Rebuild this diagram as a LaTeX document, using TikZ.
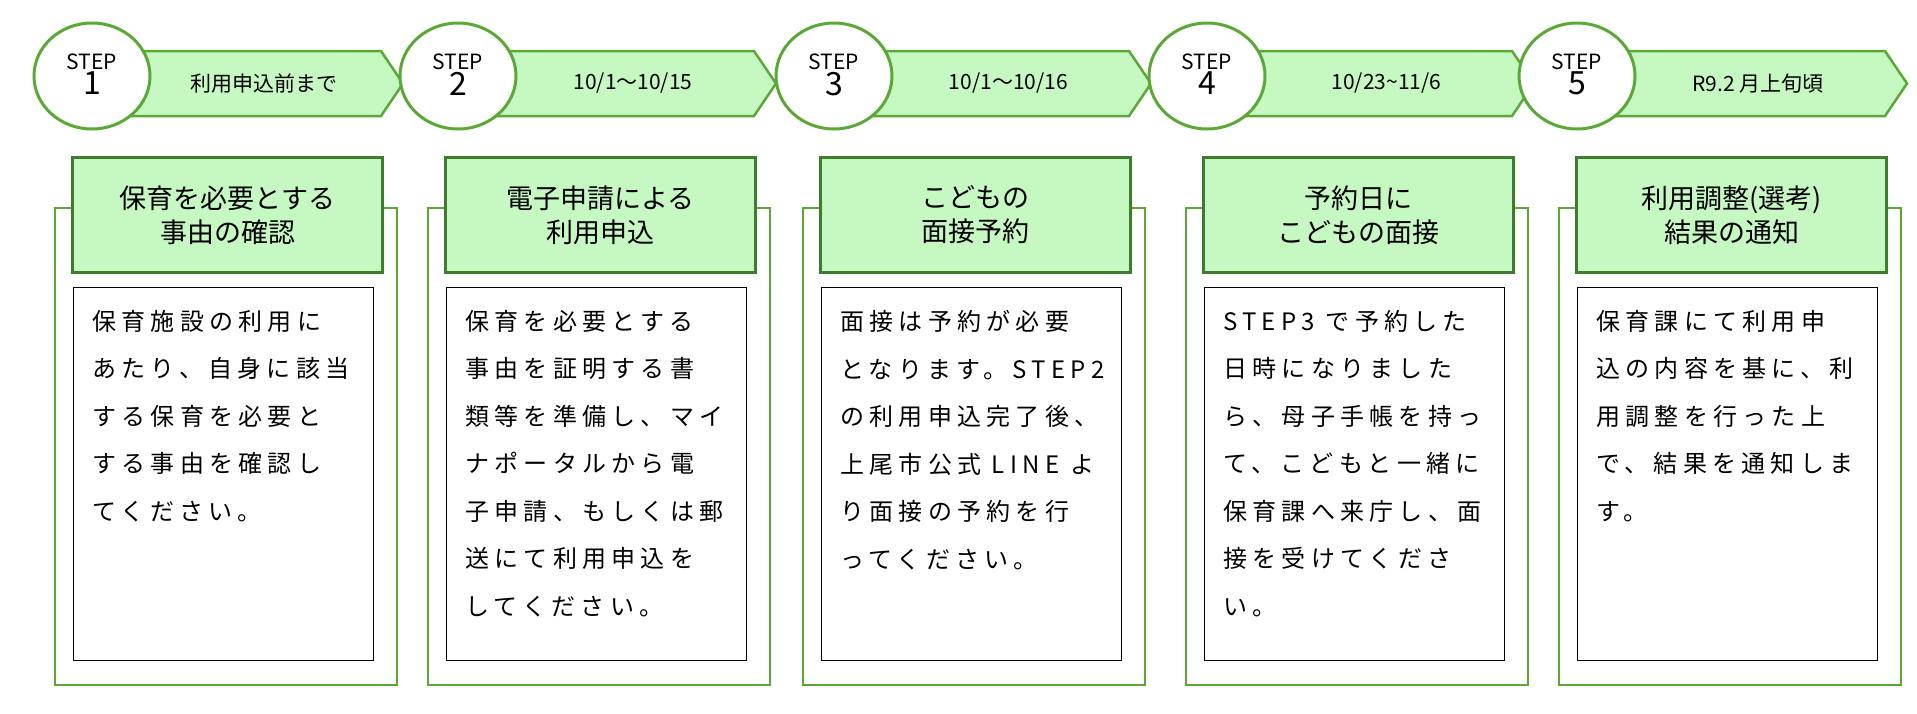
\documentclass[tikz,border=0pt]{standalone}
\usepackage{fontspec}
\setmainfont{Noto Sans CJK JP}
\newfontfamily\bodyfont{Noto Sans CJK JP}[LetterSpace=22]
\usetikzlibrary{positioning,shapes.geometric}
\definecolor{ringgreen}{HTML}{5BA935}
\definecolor{darkgreen}{HTML}{3E7D2B}
\definecolor{palegreen}{HTML}{C6F8C2}

\tikzset{stepring/.style={ellipse,minimum width=116pt,minimum height=106pt,inner sep=0pt,draw=ringgreen,line width=3pt,fill=white,align=center,text=black}}
\tikzset{banner/.style={draw=ringgreen,line width=2.5pt,fill=palegreen}}
\tikzset{titlebox/.style={draw=darkgreen,line width=3pt,fill=palegreen,minimum width=310pt,minimum height=115pt,inner sep=0pt,align=center,font=\fontsize{27}{34}\selectfont}}
\tikzset{frame/.style={draw=ringgreen,line width=2.5pt}}
\tikzset{bodybox/.style={draw=black,line width=0.6pt,fill=white,minimum width=300pt,minimum height=373pt,inner sep=0pt}}
\tikzset{bodytext/.style={align=left,font=\bodyfont\fontsize{24}{47.5}\selectfont,inner sep=0pt}}

% #1 number, #2 ring centre x, #3 panel left x, #4 date, #5 title, #6 body
\newcommand{\stepblock}[6]{%
  \draw[banner] (#2,51) -- ({#3+326},51) -- ({#3+348},83.5) -- ({#3+326},116) -- (#2,116) -- cycle;
  \node[font=\fontsize{21}{22}\selectfont] (d#1) at ({(#2+#3+348)/2+16},83.5) {#4};
  \node[stepring] (c#1) at (#2,76) {};
  \node[font=\fontsize{21}{21}\selectfont] (s#1) at (#2,62) {STEP};
  \node[font=\fontsize{32}{32}\selectfont,below=-5pt of s#1] (n#1) {#1};
  \draw[frame] ({#3+16},208) -- (#3,208) -- (#3,685) -- ({#3+342},685) -- ({#3+342},208) -- ({#3+326},208);
  \node[titlebox,anchor=north west] (t#1) at ({#3+16},156) {#5};
  \node[bodybox,anchor=north west] (p#1) at ({#3+18},287) {};
  \node[bodytext,anchor=north west] (x#1) at ({#3+37},310) {#6};
}

\begin{document}
\begin{tikzpicture}[x=1pt,y=-1pt]
\useasboundingbox (0,0) rectangle (1917,713);

\stepblock{1}{92}{55}{利用申込前まで}{保育を必要とする\\事由の確認}{保育施設の利用に\\あたり、自身に該当\\する保育を必要と\\する事由を確認し\\てください。}
\stepblock{2}{458}{428}{10/1〜10/15}{電子申請による\\利用申込}{保育を必要とする\\事由を証明する書\\類等を準備し、マイ\\ナポータルから電\\子申請、もしくは郵\\送にて利用申込を\\してください。}
\stepblock{3}{834}{803}{10/1〜10/16}{こどもの\\面接予約}{面接は予約が必要\\となります。STEP2\\の利用申込完了後、\\上尾市公式 LINE よ\\り面接の予約を行\\ってください。}
\stepblock{4}{1207}{1186}{10/23\textasciitilde 11/6}{予約日に\\こどもの面接}{STEP3 で予約した\\日時になりました\\ら、母子手帳を持っ\\て、こどもと一緒に\\保育課へ来庁し、面\\接を受けてくださ\\い。}
\stepblock{5}{1577}{1559}{R9.2 月上旬頃}{利用調整(選考)\\結果の通知}{保育課にて利用申\\込の内容を基に、利\\用調整を行った上\\で、結果を通知しま\\す。}

\end{tikzpicture}
\end{document}
